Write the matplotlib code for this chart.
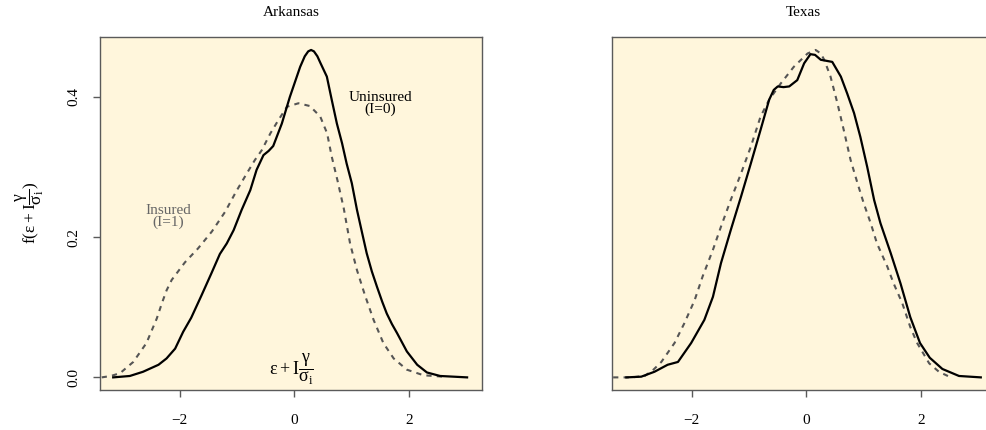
import matplotlib
matplotlib.use('Agg')
import matplotlib.pyplot as plt

plt.rcParams['font.family'] = ['Liberation Serif', 'DejaVu Serif']
plt.rcParams['mathtext.fontset'] = 'custom'
plt.rcParams['mathtext.rm'] = 'Liberation Serif'
plt.rcParams['mathtext.it'] = 'Liberation Serif'
plt.rcParams['mathtext.bf'] = 'Liberation Serif:bold'

# density estimates
ark_unins_x = [-3.16, -2.87, -2.64, -2.37, -2.23, -2.08, -1.94, -1.80, -1.62, -1.45,
               -1.30, -1.18, -1.06, -0.92, -0.77, -0.66, -0.54, -0.45, -0.37, -0.22,
               -0.08, 0.10, 0.18, 0.24, 0.29, 0.34, 0.40, 0.45, 0.565, 0.65, 0.74, 0.83,
               0.91, 1.00, 1.09, 1.18, 1.26, 1.35, 1.44, 1.53, 1.61, 1.70, 1.79,
               1.96, 2.14, 2.31, 2.54, 3.01]
ark_unins_y = [0.000, 0.002, 0.008, 0.018, 0.027, 0.041, 0.065, 0.085, 0.117, 0.148,
               0.176, 0.191, 0.210, 0.239, 0.267, 0.296, 0.317, 0.323, 0.330, 0.362,
               0.400, 0.443, 0.458, 0.465, 0.467, 0.465, 0.458, 0.449, 0.429, 0.396, 0.362, 0.334,
               0.305, 0.277, 0.239, 0.206, 0.177, 0.151, 0.129, 0.108, 0.091, 0.076, 0.063,
               0.037, 0.018, 0.007, 0.002, 0.000]

ark_ins_x = [-3.36, -3.20, -3.04, -2.81, -2.58, -2.40, -2.31, -2.23, -2.14, -1.91, -1.68,
             -1.44, -1.21, -1.01, -0.83, -0.69, -0.57, -0.42, -0.28, -0.13, 0.07, 0.27,
             0.45, 0.57, 0.65, 0.75, 0.86, 0.97, 1.09, 1.23, 1.38, 1.55,
             1.73, 1.96, 2.25, 2.60]
ark_ins_y = [0.000, 0.002, 0.006, 0.022, 0.049, 0.084, 0.106, 0.124, 0.139, 0.164, 0.184,
             0.208, 0.236, 0.266, 0.291, 0.310, 0.324, 0.348, 0.367, 0.386, 0.391, 0.387,
             0.372, 0.348, 0.315, 0.281, 0.241, 0.191, 0.153, 0.117, 0.082, 0.049,
             0.027, 0.011, 0.003, 0.001]

tex_unins_x = [-3.14, -2.88, -2.65, -2.42, -2.24, -2.01, -1.78, -1.63, -1.49, -1.32,
               -1.14, -0.97, -0.80, -0.65, -0.57, -0.50, -0.40, -0.30, -0.16, -0.04,
               0.07, 0.15, 0.25, 0.45, 0.60, 0.71, 0.83, 0.94, 1.06, 1.18,
               1.29, 1.47, 1.64, 1.81, 1.98, 2.15, 2.37, 2.66, 3.04]
tex_unins_y = [0.000, 0.001, 0.008, 0.018, 0.022, 0.049, 0.082, 0.115, 0.163, 0.210,
               0.258, 0.305, 0.353, 0.396, 0.410, 0.415, 0.414, 0.415, 0.424, 0.448,
               0.461, 0.460, 0.453, 0.450, 0.429, 0.405, 0.377, 0.343, 0.300, 0.253,
               0.220, 0.177, 0.134, 0.086, 0.049, 0.028, 0.012, 0.002, 0.000]

tex_ins_x = [-3.37, -3.05, -2.82, -2.68, -2.53, -2.30, -2.13, -1.95, -1.81, -1.63,
             -1.49, -1.32, -1.14, -0.97, -0.80, -0.65, -0.45, -0.22, 0.02, 0.16,
             0.25, 0.31, 0.42, 0.54, 0.65, 0.77, 0.89, 1.00, 1.12, 1.23,
             1.41, 1.52, 1.67, 1.81, 1.93, 2.14, 2.31, 2.49]
tex_ins_y = [0.000, 0.000, 0.002, 0.010, 0.022, 0.049, 0.077, 0.110, 0.144, 0.182,
             0.215, 0.253, 0.291, 0.329, 0.372, 0.396, 0.419, 0.443, 0.462, 0.467,
             0.462, 0.453, 0.429, 0.391, 0.353, 0.310, 0.277, 0.248, 0.220, 0.191,
             0.158, 0.134, 0.106, 0.072, 0.049, 0.020, 0.008, 0.001]

xticks = [-2, 0, 2]
yticks = [0.0, 0.2, 0.4]
ytick_labels = ['0.0', '0.2', '0.4']

panel_bg = '#FFF6DC'
frame_col = '#5a5a5a'


def draw_panel(ax, title, unins_x, unins_y, ins_x, ins_y):
    ax.set_facecolor(panel_bg)
    ax.plot(ins_x, ins_y, color='#555555', lw=1.5, linestyle=(0, (2.5, 2.5)))
    ax.plot(unins_x, unins_y, color='black', lw=1.6)
    ax.set_xlim(-3.39, 3.27)
    ax.set_ylim(-0.018, 0.4855)
    ax.set_xticks(xticks)
    ax.set_xticklabels(['\u22122', '0', '2'])
    for s in ax.spines.values():
        s.set_color(frame_col)
        s.set_linewidth(1.0)
    ax.tick_params(direction='out', length=5, width=1, color=frame_col,
                   labelsize=11, pad=9)
    ax.tick_params(axis='x', pad=12.5)
    ax.set_title(title, fontsize=11, pad=15)


fig = plt.figure(figsize=(9.87, 4.30), dpi=100)
ax1 = fig.add_axes([100 / 987, 40 / 430, 382 / 987, 353 / 430])
ax2 = fig.add_axes([612 / 987, 40 / 430, 382 / 987, 353 / 430])

draw_panel(ax1, 'Arkansas', ark_unins_x, ark_unins_y, ark_ins_x, ark_ins_y)
draw_panel(ax2, 'Texas', tex_unins_x, tex_unins_y, tex_ins_x, tex_ins_y)

ax1.set_yticks(yticks)
ax1.set_yticklabels(ytick_labels)
for lab in ax1.get_yticklabels():
    lab.set_rotation(90)
    lab.set_va('center')
ax2.set_yticks([])

ax1.text(1.5, 0.39, 'Uninsured\n(I=0)', ha='center', va='center',
         fontsize=11, linespacing=0.85)
ax1.text(-2.2, 0.23, 'Insured\n(I=1)', ha='center', va='center',
         fontsize=11, color='#666666', linespacing=0.85)
ax1.text(-0.05, 0.011, r'$\varepsilon + \mathrm{I}\dfrac{\gamma}{\sigma_\mathrm{i}}$',
         ha='center', va='center', fontsize=13)

fig.text(30 / 987, 1 - 213 / 430,
         r'$\mathrm{f}(\varepsilon + \mathrm{I}\dfrac{\gamma}{\sigma_\mathrm{i}})$',
         rotation=90, ha='center', va='center', fontsize=12.5)

fig.savefig('out.png', dpi=100)
